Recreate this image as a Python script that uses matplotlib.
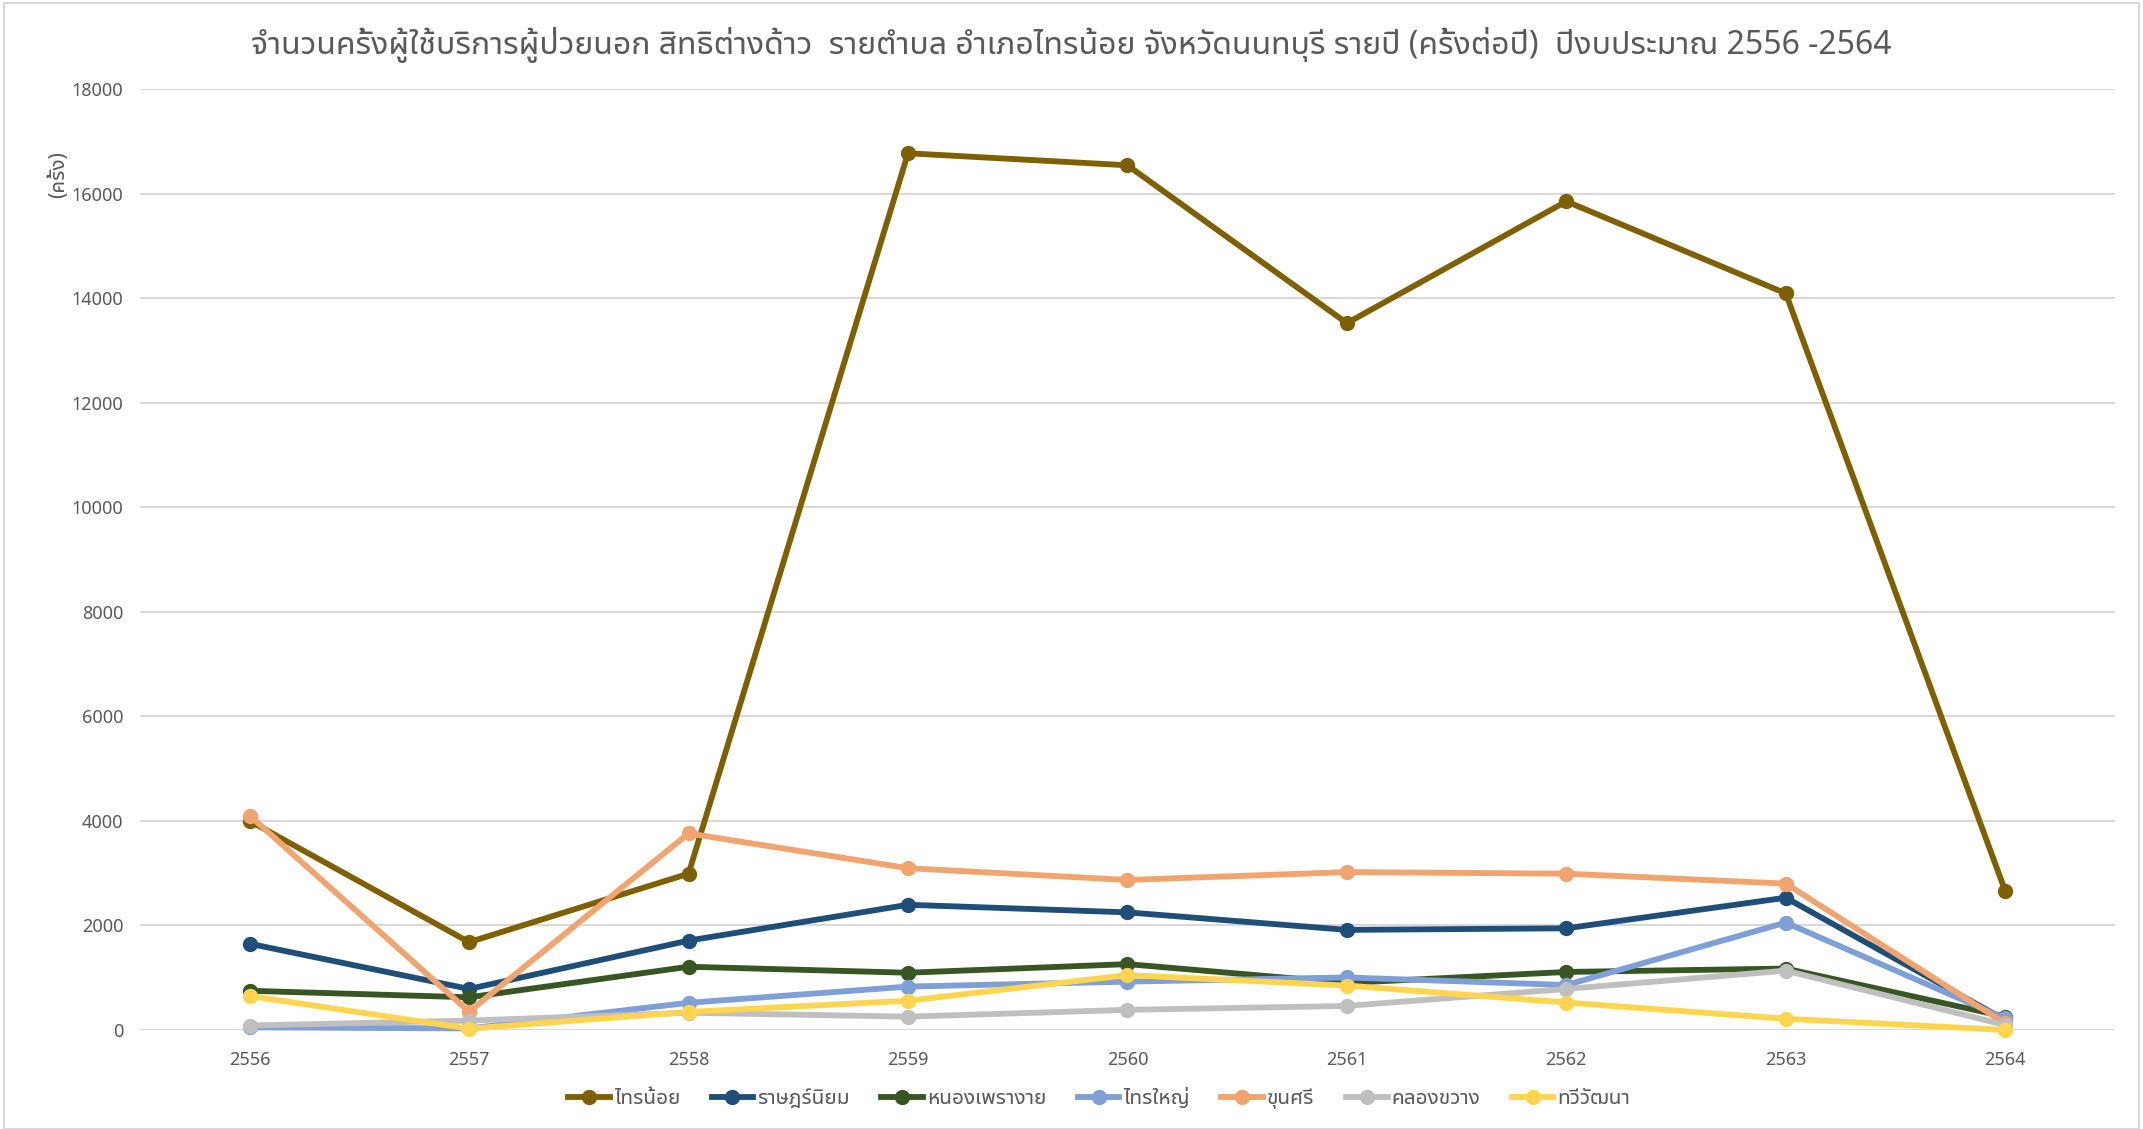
import matplotlib
matplotlib.use("Agg")
import matplotlib.pyplot as plt
import numpy as np

plt.rcParams['font.family'] = ['Noto Sans Thai UI', 'Noto Sans', 'DejaVu Sans']

#### Data ####
years = ['2556', '2557', '2558', '2559', '2560', '2561', '2562', '2563', '2564']

sai_noi = [4000, 1680, 2990, 16770, 16540, 13520, 15850, 14090, 2660]
ratsadon_niyom = [1650, 785, 1710, 2395, 2250, 1915, 1945, 2530, 190]
nong_phrao_ngai = [750, 625, 1210, 1095, 1260, 900, 1110, 1175, 255]
sai_yai = [50, 30, 520, 830, 925, 1005, 860, 2055, 220]
khun_si = [4100, 350, 3760, 3095, 2870, 3020, 2990, 2800, 125]
khlong_khwang = [85, 180, 330, 255, 385, 460, 785, 1135, 95]
thawi_watthana = [650, 25, 345, 560, 1050, 850, 525, 215, 0]

series = [
    ('ไทรน้อย', sai_noi, '#7F6000'),
    ('ราษฎร์นิยม', ratsadon_niyom, '#1F4E79'),
    ('หนองเพรางาย', nong_phrao_ngai, '#375623'),
    ('ไทรใหญ่', sai_yai, '#7F9FD9'),
    ('ขุนศรี', khun_si, '#F2A46F'),
    ('คลองขวาง', khlong_khwang, '#BFBFBF'),
    ('ทวีวัฒนา', thawi_watthana, '#FFD54F'),
]

title = 'จำนวนครั้งผู้ใช้บริการผู้ป่วยนอก สิทธิต่างด้าว  รายตำบล อำเภอไทรน้อย จังหวัดนนทบุรี รายปี (ครั้งต่อปี)  ปีงบประมาณ 2556 -2564'

#### Plot ####
fig = plt.figure(figsize=(21.43, 11.29), dpi=100)
ax = fig.add_axes([0.0653, 0.0877, 0.9216, 0.8335])

x = np.arange(len(years))
for name, vals, col in series:
    ax.plot(x, vals, '-o', color=col, lw=4.2, ms=10, label=name, clip_on=False)

ax.set_xlim(-0.5, len(years) - 0.5)
ax.set_ylim(0, 18000)
ax.set_yticks(np.arange(0, 18001, 2000))
ax.set_xticks(x)
ax.set_xticklabels(years)
ax.grid(axis='y', color='#D9D9D9', lw=1.5)
ax.set_axisbelow(True)
for s in ax.spines.values():
    s.set_visible(False)
ax.tick_params(length=0, labelsize=13, colors='#595959', pad=12)
for lab in ax.get_xticklabels() + ax.get_yticklabels():
    lab.set_family(['Noto Sans', 'DejaVu Sans'])
ax.tick_params(axis='x', pad=15)

fig.text(0.5, 0.96, title, ha='center', va='center', fontsize=23, color='#595959')
fig.text(0.0275, 0.845, '(ครั้ง)', rotation=90, ha='center', va='center',
         fontsize=15, color='#595959', fontweight='bold')

leg = ax.legend(loc='center', bbox_to_anchor=(0.513, 0.027), bbox_transform=fig.transFigure,
                ncol=7, frameon=False, fontsize=15, handlelength=2.0, columnspacing=1.5,
                handletextpad=0.2)
for t in leg.get_texts():
    t.set_color('#595959')

# outer frame like the chart area border
fig.patches.append(plt.Rectangle((0.002, 0.0), 0.996, 0.997, transform=fig.transFigure,
                                 fill=False, edgecolor='#D9D9D9', lw=1.5))

fig.savefig('out.png')
